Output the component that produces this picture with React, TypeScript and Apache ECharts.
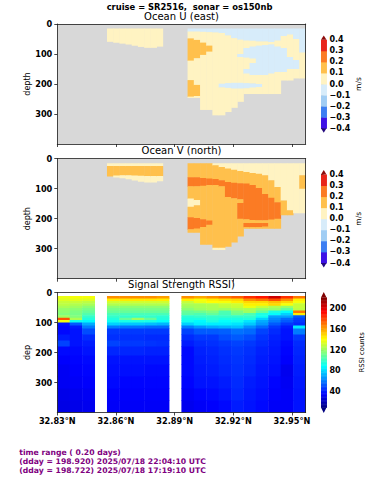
import React, { useEffect, useRef } from 'react';
import * as echarts from 'echarts';

const FONT = 'DejaVu Sans';
const LAT_MIN = 32.83;
const LAT_MAX = 32.957;

// profile (ensemble) latitudes, centres of the RSSI columns
const profileLat = [32.8332, 32.8395, 32.8459, 32.8522, 32.8586, 32.8649, 32.8712, 32.8776, 32.8839, 32.8903,
  32.8966, 32.9030, 32.9093, 32.9157, 32.9220, 32.9283, 32.9347, 32.9410, 32.9474, 32.9537];

const latTicks = [32.83, 32.86, 32.89, 32.92, 32.95];
const depthTicks = [0, 100, 200, 300];

// velocity contour levels and colours
const velLevels = [-0.4, -0.3, -0.2, -0.1, 0, 0.1, 0.2, 0.3, 0.4];
const velColors = ['#3d12e6', '#3c7ef2', '#a0cdf4', '#d7ecfa', '#fff3c2', '#ffc04c', '#fb7b24', '#e8251a'];
const velExtendColors = ['#23097e', '#8e0b0b'];

// band values
const B = -0.05, Y = 0.05, O = 0.15, R = 0.25;

// [first half-column, last half-column, [[top depth, bottom depth, value], ...]]
type Col = [number, number, [number, number, number][]];
const uColumns: Col[] = [
  [8, 8, [[15, 58, Y]]],
  [9, 9, [[15, 61, Y]]],
  [10, 10, [[15, 64, Y]]],
  [11, 11, [[15, 67, Y]]],
  [12, 12, [[15, 71, Y]]],
  [13, 13, [[15, 75, Y]]],
  [14, 15, [[15, 78, Y]]],
  [16, 16, [[15, 74, Y]]],
  [21, 21, [[15, 25, B], [25, 48, Y], [48, 122, O], [122, 187, Y], [187, 242, O], [242, 245, Y]]],
  [22, 22, [[15, 25, B], [25, 53, Y], [53, 114, O], [114, 203, Y], [203, 240, O], [240, 245, Y]]],
  [23, 23, [[15, 26, B], [26, 62, Y], [62, 103, O], [103, 285, Y]]],
  [24, 24, [[15, 27, B], [27, 72, Y], [72, 92, O], [92, 285, Y]]],
  [25, 25, [[15, 28, B], [28, 303, Y]]],
  [26, 26, [[15, 30, B], [30, 199, Y], [199, 211, B], [211, 303, Y]]],
  [27, 27, [[15, 38, B], [38, 197, Y], [197, 213, B], [213, 292, Y]]],
  [28, 28, [[15, 47, B], [47, 196, Y], [196, 215, B], [215, 278, Y]]],
  [29, 29, [[15, 52, B], [52, 100, Y], [100, 110, B], [110, 196, Y], [196, 215, B], [215, 258, Y]]],
  [30, 30, [[15, 55, B], [55, 80, Y], [80, 112, B], [112, 150, Y], [150, 165, B], [165, 197, Y], [197, 214, B], [214, 232, Y]]],
  [31, 31, [[15, 56, B], [56, 75, Y], [75, 115, B], [115, 130, Y], [130, 170, B], [170, 198, Y], [198, 212, B], [212, 232, Y]]],
  [32, 32, [[15, 58, B], [58, 72, Y], [72, 170, B], [170, 200, Y], [200, 210, B], [210, 232, Y]]],
  [33, 33, [[15, 58, B], [58, 70, Y], [70, 170, B], [170, 232, Y]]],
  [34, 34, [[15, 60, B], [60, 68, Y], [68, 165, B], [165, 232, Y]]],
  [35, 35, [[15, 55, B], [55, 75, Y], [75, 160, B], [160, 232, Y]]],
  [36, 36, [[15, 40, B], [40, 80, Y], [80, 160, B], [160, 187, Y]]],
  [37, 37, [[15, 35, B], [35, 110, Y], [110, 150, B], [150, 187, Y]]],
  [38, 38, [[15, 50, B], [50, 120, Y], [120, 150, B], [150, 180, Y]]],
  [39, 39, [[15, 95, B], [95, 180, Y]]],
];

const vColumns: Col[] = [
  [8, 8, [[15, 24, Y], [24, 58, O]]],
  [9, 9, [[15, 24, Y], [24, 56, O], [56, 61, Y]]],
  [10, 10, [[15, 24, Y], [24, 55, O], [55, 64, Y]]],
  [11, 11, [[15, 24, Y], [24, 55, O], [55, 67, Y]]],
  [12, 12, [[15, 24, Y], [24, 56, O], [56, 71, Y]]],
  [13, 13, [[15, 24, Y], [24, 57, O], [57, 75, Y]]],
  [14, 15, [[15, 24, Y], [24, 58, O], [58, 78, Y]]],
  [16, 16, [[15, 24, Y], [24, 58, O], [58, 74, Y]]],
  [21, 21, [[15, 62, O], [62, 92, R], [92, 133, O], [133, 160, Y], [160, 195, O], [195, 235, R], [235, 245, O]]],
  [22, 22, [[15, 62, O], [62, 92, R], [92, 138, O], [138, 155, Y], [155, 198, O], [198, 233, R], [233, 245, O]]],
  [23, 23, [[15, 64, O], [64, 90, R], [90, 202, O], [202, 228, R], [228, 285, O]]],
  [24, 24, [[15, 66, O], [66, 88, R], [88, 206, O], [206, 220, R], [220, 285, O]]],
  [25, 25, [[15, 22, Y], [22, 68, O], [68, 88, R], [88, 297, O], [297, 303, Y]]],
  [26, 26, [[15, 28, Y], [28, 72, O], [72, 92, R], [92, 297, O], [297, 303, Y]]],
  [27, 27, [[15, 33, Y], [33, 78, O], [78, 128, R], [128, 292, O]]],
  [28, 28, [[15, 37, Y], [37, 80, O], [80, 132, R], [132, 278, O]]],
  [29, 29, [[15, 41, Y], [41, 82, O], [82, 135, R], [135, 148, O], [148, 200, R], [200, 258, O]]],
  [30, 30, [[15, 44, Y], [44, 83, O], [83, 202, R], [202, 214, O], [214, 228, R], [228, 232, O]]],
  [31, 31, [[15, 48, Y], [48, 88, O], [88, 204, R], [204, 214, O], [214, 228, R], [228, 232, O]]],
  [32, 32, [[15, 50, Y], [50, 98, O], [98, 205, R], [205, 214, O], [214, 228, R], [228, 232, O]]],
  [33, 33, [[15, 55, Y], [55, 118, O], [118, 205, R], [205, 214, O], [214, 226, R], [226, 232, O]]],
  [34, 34, [[15, 72, Y], [72, 130, O], [130, 203, R], [203, 232, O]]],
  [35, 35, [[15, 94, Y], [94, 145, O], [145, 200, R], [200, 232, O]]],
  [36, 36, [[15, 139, Y], [139, 187, O]]],
  [37, 37, [[15, 172, Y], [172, 187, O]]],
  [38, 38, [[15, 180, Y]]],
  [39, 39, [[15, 55, Y], [55, 100, O], [100, 180, Y]]],
];

// RSSI depth-bin edges and per-profile values (null = no data)
const rssiEdges = [12, 20, 28, 36, 44, 52, 60, 68, 76, 84, 92, 100, 110, 120, 140, 160, 180, 210, 240, 280, 320, 360, 400];
const rssiProfiles: (number[] | null)[] = [
  [138, 135, 130, 128, 124, 120, 118, 116, 122, 178, 140, 40, 38, 38, 42, 50, 38, 36, 34, 34, 32, 31],
  [140, 136, 130, 126, 122, 118, 115, 114, 116, 125, 92, 55, 42, 40, 40, 40, 38, 37, 36, 35, 33, 32],
  [140, 135, 128, 124, 118, 114, 110, 106, 100, 96, 88, 72, 62, 52, 45, 42, 40, 38, 37, 36, 34, 33],
  null,
  [165, 145, 132, 126, 118, 114, 110, 104, 100, 96, 92, 80, 62, 48, 46, 50, 44, 40, 39, 38, 36, 35],
  [165, 146, 132, 126, 118, 114, 110, 104, 100, 110, 94, 78, 60, 48, 46, 48, 44, 40, 39, 37, 36, 35],
  [165, 146, 132, 126, 118, 114, 110, 104, 100, 122, 95, 78, 60, 48, 46, 48, 44, 40, 39, 37, 36, 35],
  [165, 146, 132, 126, 118, 114, 110, 104, 100, 110, 94, 76, 58, 48, 45, 47, 43, 40, 38, 37, 36, 35],
  [162, 145, 132, 126, 118, 114, 110, 104, 98, 96, 90, 74, 58, 48, 45, 46, 43, 40, 38, 37, 36, 35],
  null,
  [165, 145, 130, 125, 122, 118, 110, 108, 98, 95, 92, 80, 62, 50, 45, 42, 38, 38, 38, 37, 35, 33],
  [160, 140, 138, 125, 124, 122, 112, 105, 100, 95, 88, 86, 68, 55, 48, 45, 43, 42, 41, 40, 37, 35],
  [165, 145, 142, 126, 125, 124, 115, 110, 100, 98, 95, 86, 72, 55, 48, 46, 44, 43, 42, 40, 38, 36],
  [170, 148, 140, 130, 128, 122, 105, 104, 100, 95, 90, 86, 74, 56, 52, 48, 46, 45, 44, 42, 40, 38],
  [175, 150, 145, 132, 130, 125, 115, 112, 100, 95, 92, 84, 76, 60, 55, 50, 48, 47, 46, 45, 44, 42],
  [185, 165, 150, 145, 138, 125, 122, 105, 100, 96, 84, 78, 66, 58, 52, 48, 46, 45, 44, 42, 41, 40],
  [190, 170, 150, 145, 130, 120, 110, 95, 92, 80, 72, 68, 58, 50, 47, 45, 43, 42, 41, 40, 39, 38],
  [205, 178, 155, 150, 125, 120, 95, 90, 70, 65, 62, 55, 48, 45, 43, 42, 41, 40, 39, 37, 36, 35],
  [185, 165, 150, 140, 120, 110, 90, 80, 70, 58, 55, 48, 42, 40, 40, 38, 37, 36, 33, 34, 35, 35],
  [170, 145, 140, 130, 130, 128, 170, 145, 55, 50, 48, 45, 85, 62, 48, 45, 44, 43, 42, 41, 40, 40],
];
const RSSI_MIN = 10;
const RSSI_MAX = 221;
const rssiTicks = [40, 80, 120, 160, 200];

const titleText = 'cruise = SR2516,  sonar = os150nb';
const panelTitles = ['Ocean U (east)', 'Ocean V (north)', 'Signal Strength RSSI)'];
const footerLines = [
  'time range ( 0.20 days)',
  '(dday = 198.920) 2025/07/18 22:04:10 UTC',
  '(dday = 198.722) 2025/07/18 17:19:10 UTC',
];

// layout
const PANEL_LEFT = 57.3;
const PANEL_W = 248.4;
const PANEL_H = 120;
const PANEL_TOPS = [24, 158.7, 292.5];
const CB_LEFT = 321;
const CB_W = 5.5;
const CB_VEL_TOPS = [39.8, 174.5];
const CB_VEL_H = 88.5;
const CB_RSSI_TOP = 297.4;
const CB_RSSI_H = 110;
const AXIS_COLOR = '#1a1a1a';

function profileEdges(i: number): [number, number] {
  const lat = profileLat;
  const left = i === 0 ? lat[0] - (lat[1] - lat[0]) / 2 : (lat[i - 1] + lat[i]) / 2;
  const right = i === lat.length - 1 ? lat[i] + (lat[i] - lat[i - 1]) / 2 : (lat[i] + lat[i + 1]) / 2;
  return [left, right];
}
function halfEdges(j: number): [number, number] {
  const i = j >> 1;
  const [l, r] = profileEdges(i);
  return j % 2 === 0 ? [l, profileLat[i]] : [profileLat[i], r];
}

function velColor(v: number): string {
  for (let k = 0; k < velLevels.length - 1; k++) {
    if (v >= velLevels[k] && v < velLevels[k + 1]) return velColors[k];
  }
  return v < velLevels[0] ? velExtendColors[0] : velExtendColors[1];
}
function clamp01(x: number) { return Math.max(0, Math.min(1, x)); }
function jet(v: number): string {
  const t = clamp01((v - RSSI_MIN) / (RSSI_MAX - RSSI_MIN));
  const r = clamp01(1.5 - Math.abs(4 * t - 3));
  const g = clamp01(1.5 - Math.abs(4 * t - 2));
  const b = clamp01(1.5 - Math.abs(4 * t - 1));
  return `rgb(${Math.round(r * 255)},${Math.round(g * 255)},${Math.round(b * 255)})`;
}

function buildColumnCells(cols: Col[]) {
  const out: number[][] = [];
  cols.forEach(([j0, j1, segs]) => {
    for (let j = j0; j <= j1; j++) {
      const [x0, x1] = halfEdges(j);
      segs.forEach(([top, bottom, val]) => out.push([x0, x1, top, bottom, val]));
    }
  });
  return out;
}
function buildRssiCells() {
  const out: number[][] = [];
  rssiProfiles.forEach((prof, i) => {
    if (!prof) return;
    const [x0, x1] = profileEdges(i);
    prof.forEach((val, b) => out.push([x0, x1, rssiEdges[b], rssiEdges[b + 1], val]));
  });
  return out;
}

function cellRenderer(colorOf: (v: number) => string) {
  return (_params: any, api: any) => {
    const a = api.coord([api.value(0), api.value(2)]);
    const b = api.coord([api.value(1), api.value(3)]);
    return {
      type: 'rect',
      shape: {
        x: Math.min(a[0], b[0]),
        y: Math.min(a[1], b[1]),
        width: Math.abs(b[0] - a[0]) + 0.45,
        height: Math.abs(b[1] - a[1]) + 0.45,
      },
      style: { fill: colorOf(api.value(4)) },
    };
  };
}

function arrowRenderer(colors: string[]) {
  return (params: any, api: any) => {
    const base = api.value(0);
    const tip = api.value(1);
    const p1 = api.coord([0, base]);
    const p2 = api.coord([1, base]);
    const p3 = api.coord([0.5, tip]);
    return { type: 'polygon', shape: { points: [p1, p2, p3] }, style: { fill: colors[params.dataIndex] } };
  };
}

const tickFont = { fontFamily: FONT, fontWeight: 'bold' as const, fontSize: 8.2, color: '#000' };
const lineStyle = { color: AXIS_COLOR, width: 0.8 };

function panelXAxes(g: number, showLabels: boolean) {
  return [
    {
      type: 'value', gridIndex: g, min: LAT_MIN, max: LAT_MAX, position: 'bottom', z: 5,
      axisLine: { show: true, onZero: false, lineStyle },
      axisTick: { show: true, length: 3, customValues: latTicks, lineStyle },
      axisLabel: {
        show: showLabels, customValues: latTicks, margin: 4, ...tickFont,
        formatter: (v: number) => v.toFixed(2) + '°N',
      },
      splitLine: { show: false },
    },
    {
      type: 'value', gridIndex: g, min: LAT_MIN, max: LAT_MAX, position: 'top', z: 5,
      axisLine: { show: true, onZero: false, lineStyle },
      axisTick: { show: false }, axisLabel: { show: false }, splitLine: { show: false },
    },
  ];
}
function panelYAxes(g: number, name: string) {
  return [
    {
      type: 'value', gridIndex: g, min: 0, max: 400, inverse: true, position: 'left', z: 5,
      name, nameLocation: 'middle', nameGap: 26, nameRotate: 90, nameMoveOverlap: false,
      nameTextStyle: { fontFamily: FONT, fontSize: 8, color: '#000' },
      axisLine: { show: true, onZero: false, lineStyle },
      axisTick: { show: true, length: 3, customValues: depthTicks, lineStyle },
      axisLabel: { customValues: depthTicks, margin: 5, ...tickFont },
      splitLine: { show: false },
    },
    {
      type: 'value', gridIndex: g, min: 0, max: 400, inverse: true, position: 'right', z: 5,
      axisLine: { show: true, onZero: false, lineStyle },
      axisTick: { show: false }, axisLabel: { show: false }, splitLine: { show: false },
    },
  ];
}
function velLabel(v: number) {
  if (Math.abs(v) < 1e-9) return '0.0';
  return (v < 0 ? '\u2212' : '') + Math.abs(v).toFixed(1);
}

function buildOption() {
  const grids: any[] = [];
  PANEL_TOPS.forEach((top, g) => {
    grids.push({
      left: PANEL_LEFT, top, width: PANEL_W, height: PANEL_H, outerBoundsMode: 'none', containLabel: false,
      show: g < 2, backgroundColor: '#d8d8d8', borderWidth: 0,
    });
  });
  CB_VEL_TOPS.forEach((top) => grids.push({ left: CB_LEFT, top, width: CB_W, height: CB_VEL_H, outerBoundsMode: 'none', containLabel: false }));
  grids.push({ left: CB_LEFT, top: CB_RSSI_TOP, width: CB_W, height: CB_RSSI_H, outerBoundsMode: 'none', containLabel: false });

  const xAxes: any[] = [
    ...panelXAxes(0, false), ...panelXAxes(1, false), ...panelXAxes(2, true),
    ...[3, 4, 5].map((g) => ({ type: 'value', gridIndex: g, min: 0, max: 1, show: false })),
  ];
  const cbYAxis = (g: number, name: string) => ({
    type: 'value', gridIndex: g, min: -0.4, max: 0.4, interval: 0.1, position: 'right',
    name, nameLocation: 'middle', nameGap: 27, nameRotate: 90,
    nameTextStyle: { fontFamily: FONT, fontSize: 7.5, color: '#000' },
    axisLine: { show: false },
    axisTick: { show: true, length: 2.5, lineStyle },
    axisLabel: { margin: 3, ...tickFont, fontSize: 8, formatter: velLabel },
    splitLine: { show: false },
  });
  const yAxes: any[] = [
    ...panelYAxes(0, 'depth'), ...panelYAxes(1, 'depth'), ...panelYAxes(2, 'dep'),
    cbYAxis(3, 'm/s'), cbYAxis(4, 'm/s'),
    {
      type: 'value', gridIndex: 5, min: RSSI_MIN, max: RSSI_MAX, position: 'right',
      name: 'RSSI counts', nameLocation: 'middle', nameGap: 32, nameRotate: 90,
      nameTextStyle: { fontFamily: FONT, fontSize: 6.8, color: '#000' },
      axisLine: { show: false },
      axisTick: { show: true, length: 2.5, customValues: rssiTicks, lineStyle },
      axisLabel: { customValues: rssiTicks, margin: 3, ...tickFont, fontSize: 8 },
      splitLine: { show: false },
    },
  ];

  const velBarData = velColors.map((_c, k) => [0, 1, velLevels[k], velLevels[k + 1], (velLevels[k] + velLevels[k + 1]) / 2]);
  const velArrowData = [[velLevels[0], velLevels[0] - 0.04], [velLevels[8], velLevels[8] + 0.04]];
  const rssiBarData: number[][] = [];
  for (let v = RSSI_MIN; v < RSSI_MAX; v += 1.5) {
    const top = Math.min(v + 1.5, RSSI_MAX);
    rssiBarData.push([0, 1, v, top, (v + top) / 2]);
  }
  const rssiArrowSpan = (RSSI_MAX - RSSI_MIN) * 0.05;
  const rssiArrowData = [[RSSI_MIN, RSSI_MIN - rssiArrowSpan], [RSSI_MAX, RSSI_MAX + rssiArrowSpan]];

  const cellEncode = { x: [0, 1], y: [2, 3] };
  const series: any[] = [
    { type: 'custom', name: 'U', xAxisIndex: 0, yAxisIndex: 0, data: buildColumnCells(uColumns), renderItem: cellRenderer(velColor), encode: cellEncode, clip: true, silent: true },
    { type: 'custom', name: 'V', xAxisIndex: 2, yAxisIndex: 2, data: buildColumnCells(vColumns), renderItem: cellRenderer(velColor), encode: cellEncode, clip: true, silent: true },
    { type: 'custom', name: 'RSSI', xAxisIndex: 4, yAxisIndex: 4, data: buildRssiCells(), renderItem: cellRenderer(jet), encode: cellEncode, clip: true, silent: true },
  ];
  [6, 7].forEach((ai) => {
    series.push({ type: 'custom', xAxisIndex: ai, yAxisIndex: ai, data: velBarData, renderItem: cellRenderer(velColor), encode: cellEncode, clip: false, silent: true });
    series.push({ type: 'custom', xAxisIndex: ai, yAxisIndex: ai, data: velArrowData, renderItem: arrowRenderer(velExtendColors), encode: { y: [0, 1] }, clip: false, silent: true });
  });
  series.push({ type: 'custom', xAxisIndex: 8, yAxisIndex: 8, data: rssiBarData, renderItem: cellRenderer(jet), encode: cellEncode, clip: false, silent: true });
  series.push({ type: 'custom', xAxisIndex: 8, yAxisIndex: 8, data: rssiArrowData, renderItem: arrowRenderer(['#000080', '#800000']), encode: { y: [0, 1] }, clip: false, silent: true });

  const panelCenter = PANEL_LEFT + PANEL_W / 2;
  const graphic: any[] = [
    {
      type: 'text', x: 189.5, y: 6.5, z: 10,
      style: { text: titleText, fill: '#000', fontFamily: FONT, fontWeight: 'bold', fontSize: 8.4, align: 'center', verticalAlign: 'middle' },
    },
    ...panelTitles.map((t, i) => ({
      type: 'text', x: panelCenter, y: [16.5, 150.7, 284.5][i], z: 10,
      style: { text: t, fill: '#000', fontFamily: FONT, fontSize: 10, align: 'center', verticalAlign: 'middle' },
    })),
    ...footerLines.map((t, i) => ({
      type: 'text', x: 19.3, y: 452.7 + i * 9, z: 10,
      style: { text: t, fill: '#800080', fontFamily: FONT, fontWeight: 'bold', fontSize: 7.7, align: 'left', verticalAlign: 'middle' },
    })),
  ];

  return {
    animation: false,
    backgroundColor: '#ffffff',
    grid: grids,
    xAxis: xAxes,
    yAxis: yAxes,
    series,
    graphic,
  };
}

export default function App() {
  const ref = useRef<HTMLDivElement>(null);
  useEffect(() => {
    if (!ref.current) return;
    const chart = echarts.init(ref.current, undefined, { renderer: 'svg' });
    chart.setOption(buildOption() as any);
    return () => chart.dispose();
  }, []);
  return (
    <div
      ref={ref}
      style={{ position: 'fixed', left: 0, top: 0, width: 379, height: 480, background: '#fff' }}
    />
  );
}
